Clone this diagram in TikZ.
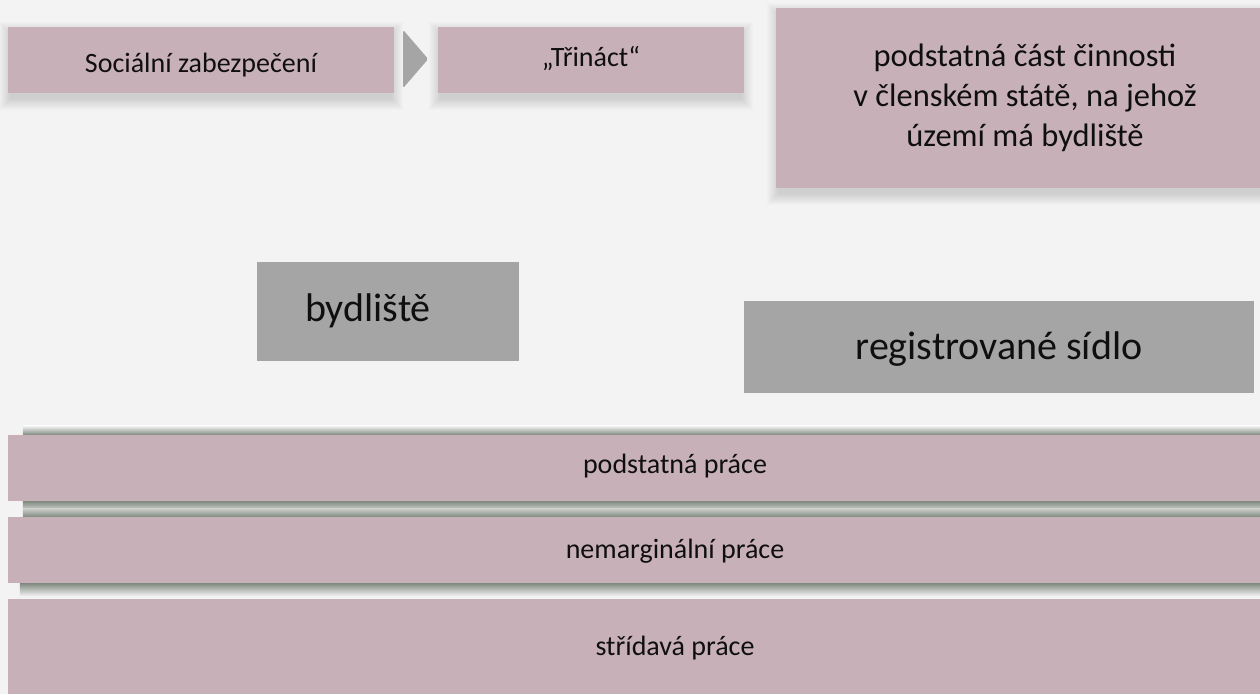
\documentclass[tikz,border=0pt]{standalone}
\usepackage{fontspec}
\setmainfont{Carlito}
\usetikzlibrary{calc}
\definecolor{pinkbox}{RGB}{200,176,184}
\definecolor{grayfill}{RGB}{165,165,165}
\definecolor{bgc}{RGB}{243,243,243}
\definecolor{shc}{RGB}{128,138,128}
\definecolor{gapc}{RGB}{202,204,202}
\definecolor{txt}{RGB}{15,15,15}
\pgfdeclarelayer{bg}
\pgfsetlayers{bg,main}
\begin{document}
\begin{tikzpicture}[x=1pt,y=-1pt,
  pbox/.style={fill=pinkbox, draw=none, inner sep=0pt, text=txt},
  gbox/.style={fill=grayfill, draw=none, inner sep=0pt, text=txt},
  fsmall/.style={font=\fontsize{28}{34}\selectfont},
  fmid/.style={font=\fontsize{32.5}{40}\selectfont},
  fbig/.style={font=\fontsize{40}{48}\selectfont},
  softshadow/.style={fill=black, opacity=0.013}
]
\useasboundingbox (0,0) rectangle (1260,694);
\clip (0,0) rectangle (1260,694);

% top row
\node[pbox, fsmall, minimum width=386pt, minimum height=66pt,
      text height=24pt, text depth=0pt] (soc) at (201,60) {Sociální zabezpečení};
\node[pbox, fsmall, minimum width=306pt, minimum height=66pt,
      text height=20pt, text depth=8pt] (tri) at (591,60) {„Třináct“};
\fill[grayfill, rounded corners=1.5pt]
  ($(soc.east)+(9,-30)$) -- ($(soc.east)+(34,-1)$) -- ($(soc.east)+(9,28)$) -- cycle;

\node[pbox, fmid, align=center, minimum width=498pt, minimum height=180pt]
  (big) at (1025,98) {podstatná část činnosti\\v členském státě, na jehož\\území má bydliště};

% gray boxes
\node[gbox, fbig, minimum width=262pt, minimum height=99pt, text width=262pt,
      inner xsep=0pt, align=left, text height=30pt, text depth=11pt]
  (byd) at (388,311.5) {\hspace*{48pt}bydliště};
\node[gbox, fbig, minimum width=510pt, minimum height=92pt,
      text height=30pt, text depth=6pt] (sid) at (999,347) {registrované sídlo};

% bands
\node[pbox, fsmall, minimum width=1334pt, minimum height=66pt,
      text height=20pt, text depth=10pt] (band1) at (675,468) {podstatná práce};
\node[pbox, fsmall, minimum width=1334pt, minimum height=66pt,
      text height=22pt, text depth=6pt] (band2) at (675,550) {nemarginální práce};
\node[pbox, fsmall, minimum width=1334pt, minimum height=95pt,
      text height=22pt, text depth=5pt] (band3) at (675,646.5) {střídavá práce};

\begin{pgfonlayer}{bg}
  \fill[bgc] (0,0) rectangle (1260,694);
  \foreach \n in {soc,tri,big}{
    \foreach \k in {1,...,12}{
      \fill[softshadow] ([shift={(-\k+3,-\k+7)}]\n.north west)
        rectangle ([shift={(\k-3,\k+5)}]\n.south east);
    }
  }
  % band shadows
  \shade[top color=bgc, bottom color=shc]
    ([shift={(15,-9)}]band1.north west) rectangle (band1.north east);
  \shade[top color=shc, bottom color=gapc]
    ([shift={(15,0)}]band1.south west) rectangle ([shift={(0,8)}]band1.south east);
  \shade[top color=gapc, bottom color=shc]
    ([shift={(15,-8)}]band2.north west) rectangle (band2.north east);
  \shade[top color=shc, bottom color=bgc]
    ([shift={(12,0)}]band2.south west) rectangle ([shift={(0,13)}]band2.south east);
\end{pgfonlayer}
\end{tikzpicture}
\end{document}
